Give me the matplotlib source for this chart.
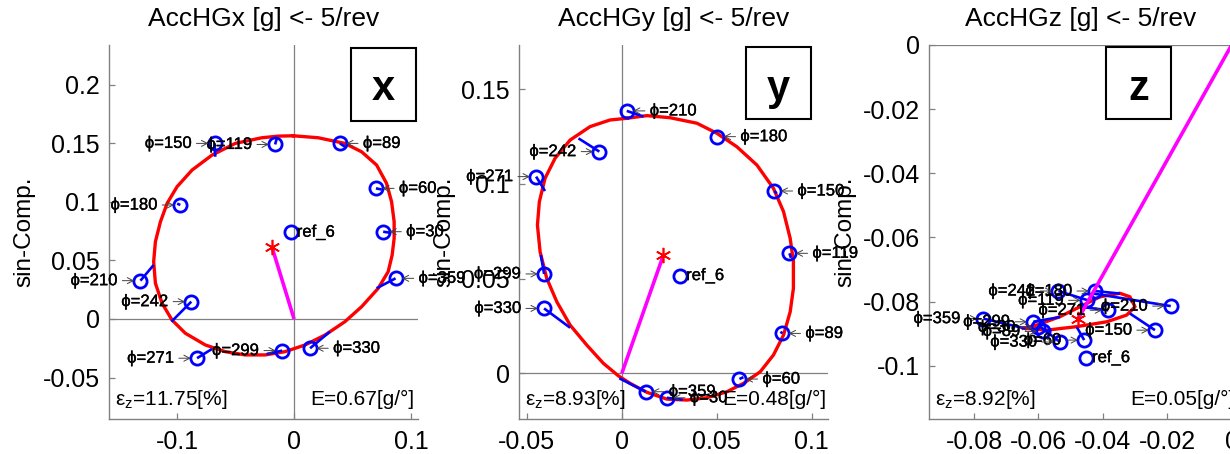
import matplotlib
matplotlib.use("Agg")
import matplotlib.pyplot as plt
import matplotlib.patheffects as pe
from matplotlib.patches import Rectangle

plt.rcParams['font.family'] = ['Liberation Sans', 'DejaVu Sans']
plt.rcParams['mathtext.fontset'] = 'custom'
plt.rcParams['mathtext.rm'] = 'Liberation Sans'
plt.rcParams['mathtext.it'] = 'Liberation Sans'
plt.rcParams['mathtext.bf'] = 'Liberation Sans:bold'

# rotor azimuth of each measured sample [deg]
phi = [359, 30, 60, 89, 119, 150, 180, 210, 242, 271, 299, 330]

# ---------------- AccHGx ----------------
x_meas_cos = [0.0868, 0.0762, 0.0700, 0.0392, -0.0162, -0.0680, -0.0973, -0.1314, -0.0879, -0.0830, -0.0102, 0.0137]
x_meas_sin = [0.0347, 0.0745, 0.1115, 0.1499, 0.1490, 0.1499, 0.0973, 0.0327, 0.0148, -0.0335, -0.0270, -0.0250]
x_fit_cos = [0.0706, 0.0830, 0.0750, 0.0435, -0.0148, -0.0674, -0.1000, -0.1201, -0.1049, -0.0702, -0.0235, 0.0307]
x_fit_sin = [0.0262, 0.0735, 0.1105, 0.1470, 0.1542, 0.1385, 0.0985, 0.0461, -0.0023, -0.0256, -0.0300, -0.0108]
x_curve_cos = [-0.0006, 0.0207, 0.0435, 0.0578, 0.0706, 0.0791, 0.0834, 0.0856, 0.0856, 0.0839, 0.0805, 0.0720,
               0.0578, 0.0435, 0.0265, 0.0094, -0.0077, -0.0247, -0.0418, -0.0589, -0.0759, -0.0930, -0.1044,
               -0.1129, -0.1186, -0.1201, -0.1186, -0.1143, -0.1086, -0.1001, -0.0873, -0.0702, -0.0503,
               -0.0276, -0.0134]
x_curve_sin = [0.1564, 0.1547, 0.1499, 0.1427, 0.1314, 0.1158, 0.1001, 0.0830, 0.0689, 0.0546, 0.0404, 0.0262,
               0.0105, -0.0023, -0.0137, -0.0222, -0.0279, -0.0307, -0.0307, -0.0279, -0.0222, -0.0122, -0.0009,
               0.0134, 0.0305, 0.0489, 0.0660, 0.0830, 0.0987, 0.1129, 0.1271, 0.1399, 0.1499,
               0.1547, 0.1561]
x_ref = (-0.0028, 0.0740)
x_center = (-0.0190, 0.0617)
x_eps = "11.75"
x_E = "0.67"

# ---------------- AccHGy ----------------
y_meas_cos = [0.0126, 0.0237, 0.0619, 0.0845, 0.0882, 0.0803, 0.0503, 0.0026, -0.0118, -0.0451, -0.0409, -0.0409]
y_meas_sin = [-0.0097, -0.0129, -0.0030, 0.0211, 0.0634, 0.0963, 0.1250, 0.1386, 0.1171, 0.1039, 0.0525, 0.0343]
y_fit_cos = [-0.0013, 0.0320, 0.0640, 0.0835, 0.0890, 0.0815, 0.0500, 0.0114, -0.0228, -0.0404, -0.0426, -0.0272]
y_fit_sin = [-0.0026, -0.0140, -0.0020, 0.0220, 0.0610, 0.0950, 0.1250, 0.1356, 0.1241, 0.0963, 0.0625, 0.0241]
y_curve_cos = [0.0026, 0.0132, 0.0254, 0.0395, 0.0500, 0.0605, 0.0711, 0.0798, 0.0851, 0.0886, 0.0903, 0.0903,
               0.0886, 0.0851, 0.0798, 0.0728, 0.0640, 0.0553, 0.0447, 0.0342, 0.0237, 0.0132, 0.0044,
               -0.0018, -0.0097, -0.0184, -0.0272, -0.0342, -0.0395, -0.0430, -0.0444, -0.0434, -0.0404,
               -0.0351, -0.0272, -0.0167, -0.0062]
y_curve_sin = [0.1347, 0.1361, 0.1350, 0.1321, 0.1268, 0.1197, 0.1100, 0.0977, 0.0854, 0.0713, 0.0590, 0.0449,
               0.0325, 0.0202, 0.0097, 0.0008, -0.0053, -0.0097, -0.0129, -0.0141, -0.0136, -0.0100, -0.0053,
               -0.0013, 0.0053, 0.0149, 0.0255, 0.0378, 0.0502, 0.0642, 0.0783, 0.0906, 0.1030,
               0.1136, 0.1232, 0.1303, 0.1338]
y_ref = (0.0307, 0.0516)
y_center = (0.0219, 0.0625)
y_eps = "8.93"
y_E = "0.48"

# ---------------- AccHGz ----------------
z_meas_cos = [-0.0771, -0.0600, -0.0458, -0.0585, -0.0450, -0.0238, -0.0424, -0.0189, -0.0538, -0.0383, -0.0616, -0.0533]
z_meas_sin = [-0.0853, -0.0880, -0.0920, -0.0893, -0.0796, -0.0889, -0.0767, -0.0814, -0.0767, -0.0827, -0.0863, -0.0926]
z_fit_cos = [-0.0640, -0.0600, -0.0481, -0.0560, -0.0450, -0.0316, -0.0347, -0.0429, -0.0440, -0.0471, -0.0533, -0.0600]
z_fit_sin = [-0.0884, -0.0885, -0.0879, -0.0888, -0.0805, -0.0837, -0.0775, -0.0775, -0.0798, -0.0816, -0.0848, -0.0874]
z_curve_cos = [-0.0647, -0.0574, -0.0481, -0.0388, -0.0326, -0.0300, -0.0316, -0.0347, -0.0409, -0.0471, -0.0533, -0.0605]
z_curve_sin = [-0.0883, -0.0889, -0.0878, -0.0863, -0.0842, -0.0816, -0.0785, -0.0774, -0.0785, -0.0816, -0.0847, -0.0873]
z_ref = (-0.0452, -0.0975)
z_center = (-0.0476, -0.0853)
z_eps = "8.92"
z_E = "0.05"

# axis ticks
x_xticks = [-0.1, 0, 0.1]
x_xticklabels = ["-0.1", "0", "0.1"]
x_yticks = [-0.05, 0, 0.05, 0.1, 0.15, 0.2]
x_yticklabels = ["-0.05", "0", "0.05", "0.1", "0.15", "0.2"]
y_xticks = [-0.05, 0, 0.05, 0.1]
y_xticklabels = ["-0.05", "0", "0.05", "0.1"]
y_yticks = [0, 0.05, 0.1, 0.15]
y_yticklabels = ["0", "0.05", "0.1", "0.15"]
z_xticks = [-0.08, -0.06, -0.04, -0.02, 0]
z_xticklabels = ["-0.08", "-0.06", "-0.04", "-0.02", "0"]
z_yticks = [-0.1, -0.08, -0.06, -0.04, -0.02, 0]
z_yticklabels = ["-0.1", "-0.08", "-0.06", "-0.04", "-0.02", "0"]

GRAY = '#808080'
W, H = 1230, 454

fig = plt.figure(figsize=(W / 100, H / 100), dpi=100)


def px_axes(left, right, top=45, bottom=419):
    return fig.add_axes([left / W, (H - bottom) / H, (right - left) / W, (bottom - top) / H])


panels = [
    dict(ax=px_axes(109, 418), title="AccHGx [g] <- 5/rev", letter="x",
         mc=x_meas_cos, ms=x_meas_sin, fc=x_fit_cos, fs=x_fit_sin, cc=x_curve_cos, cs=x_curve_sin,
         ref=x_ref, center=x_center, eps=x_eps, E=x_E,
         xlim=(-0.1583, 0.1060), ylim=(-0.0854, 0.2339),
         xt=x_xticks, xtl=x_xticklabels, yt=x_yticks, ytl=x_yticklabels,
         box=(0.782, 0.7976, 0.9935, 0.991), ylab_x=-0.275, E_x=0.650),
    dict(ax=px_axes(519, 828), title="AccHGy [g] <- 5/rev", letter="y",
         mc=y_meas_cos, ms=y_meas_sin, fc=y_fit_cos, fs=y_fit_sin, cc=y_curve_cos, cs=y_curve_sin,
         ref=y_ref, center=y_center, eps=y_eps, E=y_E,
         xlim=(-0.0541, 0.1085), ylim=(-0.0241, 0.1734),
         xt=y_xticks, xtl=y_xticklabels, yt=y_yticks, ytl=y_yticklabels,
         box=(0.735, 0.801, 0.944, 0.9955), ylab_x=-0.243, E_x=0.657),
    dict(ax=px_axes(929, 1231.6), title="AccHGz [g] <- 5/rev", letter="z",
         mc=z_meas_cos, ms=z_meas_sin, fc=z_fit_cos, fs=z_fit_sin, cc=z_curve_cos, cs=z_curve_sin,
         ref=z_ref, center=z_center, eps=z_eps, E=z_E,
         xlim=(-0.0940, 0.0), ylim=(-0.1166, 0.0),
         xt=z_xticks, xtl=z_xticklabels, yt=z_yticks, ytl=z_yticklabels,
         box=(0.586, 0.802, 0.800, 0.9955), ylab_x=-0.275, E_x=0.666),
]

label_fx = [pe.withStroke(linewidth=0.25, foreground='black')]

for p in panels:
    ax = p['ax']
    ax.set_facecolor('none')
    ax.set_xlim(*p['xlim'])
    ax.set_ylim(*p['ylim'])

    # origin cross
    ax.axhline(0, color=GRAY, lw=0.9, zorder=1)
    ax.axvline(0, color=GRAY, lw=0.9, zorder=1)

    # fitted closed curve
    cc = list(p['cc']) + [p['cc'][0]]
    cs = list(p['cs']) + [p['cs'][0]]
    ax.plot(cc, cs, color='red', lw=2.4, zorder=2, solid_joinstyle='round')

    # residuals between measurement and fit
    for mx, my, fx, fy in zip(p['mc'], p['ms'], p['fc'], p['fs']):
        ax.plot([mx, fx], [my, fy], color='blue', lw=1.9, zorder=3, solid_capstyle='butt')

    # measured points and reference
    ax.plot(p['mc'], p['ms'], 'o', mfc='none', mec='blue', mew=2.0, ms=9.5, zorder=4)
    ax.plot([p['ref'][0]], [p['ref'][1]], 'o', mfc='none', mec='blue', mew=2.0, ms=9.5, zorder=4)

    # mean vector
    cx, cy = p['center']
    ax.plot([0, cx], [0, cy], color='magenta', lw=2.6, zorder=5, solid_capstyle='butt')
    ax.plot([cx], [cy], marker=(6, 2, 0), color='red', ms=11, mew=1.2, zorder=6)

    # azimuth labels
    for ang, mx, my in zip(phi, p['mc'], p['ms']):
        right = mx >= 0
        ax.annotate(f'ϕ={ang}', xy=(mx, my), xytext=(23 if right else -23, 0),
                    textcoords='offset pixels', ha='left' if right else 'right', va='center',
                    fontsize=12, color='black', zorder=7, path_effects=label_fx,
                    arrowprops=dict(arrowstyle='->,head_length=0.35,head_width=0.18',
                                    color='0.25', lw=0.7, shrinkA=1.5, shrinkB=4.5))
    ax.annotate('ref_6', xy=p['ref'], xytext=(6, 0), textcoords='offset pixels',
                ha='left', va='center', fontsize=12, color='black', zorder=7,
                path_effects=label_fx)

    # component letter in a box
    x0, y0, x1, y1 = p['box']
    ax.add_patch(Rectangle((x0, y0), x1 - x0, y1 - y0, transform=ax.transAxes,
                           fill=False, ec='black', lw=1.5, clip_on=False, zorder=8))
    ax.text((x0 + x1) / 2, 0.853, p['letter'], transform=ax.transAxes, ha='center',
            va='baseline', fontsize=30, fontweight='bold', zorder=8)

    # error and sensitivity figures
    ax.text(0.02, 0.0374, 'ε$_\\mathregular{z}$=' + p['eps'] + '[%]', transform=ax.transAxes,
            ha='left', va='baseline', fontsize=15, zorder=8)
    ax.text(p['E_x'], 0.0374, 'E=' + p['E'] + '[g/°]', transform=ax.transAxes,
            ha='left', va='baseline', fontsize=15, zorder=8)

    # axes styling
    ax.set_title(p['title'], fontsize=19, pad=14)
    ax.set_ylabel('sin-Comp.', fontsize=17.5)
    ax.yaxis.set_label_coords(p['ylab_x'], 0.5)
    ax.yaxis.label.set_va('center')
    ax.set_xticks(p['xt'])
    ax.set_xticklabels(p['xtl'])
    ax.set_yticks(p['yt'])
    ax.set_yticklabels(p['ytl'])
    ax.tick_params(direction='in', length=4, width=0.9, color=GRAY, labelsize=18)
    ax.tick_params(axis='x', pad=8)
    ax.tick_params(axis='y', pad=6.5)
    for side in ('top', 'right'):
        ax.spines[side].set_visible(False)
    for side in ('left', 'bottom'):
        ax.spines[side].set_color(GRAY)
        ax.spines[side].set_linewidth(1.0)

fig.savefig('out.png', dpi=100, facecolor='white')
